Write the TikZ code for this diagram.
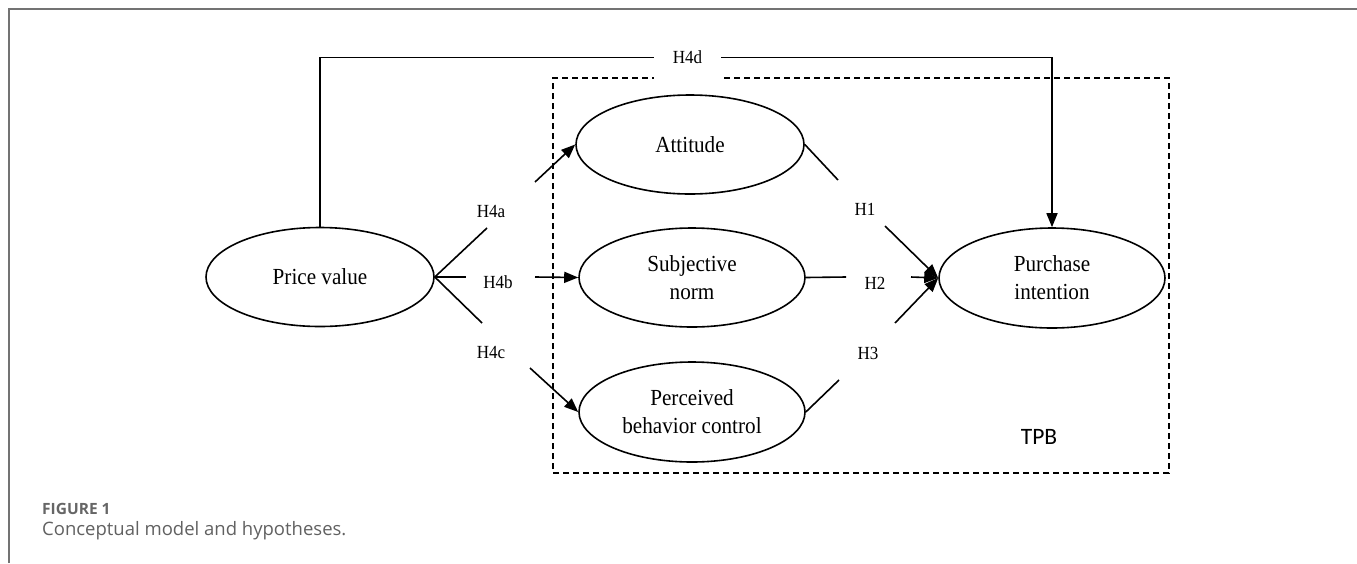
\documentclass[tikz,border=0pt]{standalone}
\usepackage{fontspec}
\setmainfont{Liberation Serif}
\newfontfamily\diagfont{Liberation Serif}[FakeStretch=0.92]
\newfontfamily\capfont{Open Sans}
\newfontfamily\tpbfont{Carlito}
\usetikzlibrary{shapes.geometric,arrows.meta}
\begin{document}
\begin{tikzpicture}[x=1pt,y=-1pt,
  ell/.style={draw, ellipse, line width=1.6pt, inner sep=0pt, minimum width=228pt, minimum height=99pt, align=center, font=\diagfont\fontsize{23}{28}\selectfont},
  lab/.style={font=\diagfont\fontsize{18.5}{20}\selectfont, inner sep=0pt},
  conn/.style={line width=1.6pt},
  arr/.style={conn, -{Triangle[length=14pt,width=11pt]}},
  tpbbox/.style={line width=1.5pt, dash pattern=on 6pt off 4pt}]
\useasboundingbox (0,0) rectangle (1357,563);
% frame
\draw[black!55, line width=1.5pt] (9,563) -- (9,9) -- (1357,9);

% nodes
\node[ell] (pv) at (320,277) {Price value};
\node[ell] (att) at (690,144.5) {Attitude};
\node[ell, minimum width=226pt] (sn) at (692,277.5) {Subjective\\norm};
\node[ell, minimum width=226pt, minimum height=100pt] (pbc) at (692,412) {Perceived\\behavior control};
\node[ell, minimum width=226pt, minimum height=100pt] (pi) at (1052,278) {Purchase\\intention};

% TPB dashed box (gap at H4d label)
\coordinate (b1) at (724,78);
\coordinate (b2) at (654,78);
\draw[tpbbox] (b1) -- (1169,78) -- (1169,473) -- (553,473) -- (553,78) -- (b2);
\node[font=\tpbfont\fontsize{23.5}{26}\selectfont, inner sep=0pt] (tpb) at (1039,437) {TPB};

% H4d
\node[lab, minimum width=67pt] (h4d) at (687.5,57.5) {H4d};
\draw[conn] (pv.north) |- (h4d.west);
\draw[arr] (h4d.east) -| (pi.north);

% H4a
\node[lab] (h4a) at (491,211) {H4a};
\coordinate (a1) at (487,228);
\coordinate (a2) at (535,182);
\draw[conn] (pv.east) -- (a1);
\draw[arr] (a2) -- (att.west);

% H4b
\node[lab] (h4b) at (498,282) {H4b};
\coordinate (b3) at (466,277);
\coordinate (b4) at (535,277);
\draw[conn] (pv.east) -- (b3);
\draw[arr] (b4) -- (sn.west);

% H4c
\node[lab] (h4c) at (491,352) {H4c};
\coordinate (c1) at (482,323);
\coordinate (c2) at (530,368);
\draw[conn] (pv.east) -- (c1);
\draw[arr] (c2) -- (pbc.west);

% H1
\node[lab] (h1) at (865,209) {H1};
\coordinate (d1) at (838,180);
\coordinate (d2) at (885,226);
\draw[conn] (att.east) -- (d1);
\draw[arr] (d2) -- (pi.west);

% H2
\node[lab] (h2) at (875,283) {H2};
\coordinate (e1) at (846,277);
\coordinate (e2) at (911,277);
\draw[conn] (sn.east) -- (e1);
\draw[arr] (e2) -- (pi.west);

% H3
\node[lab] (h3) at (868,353) {H3};
\coordinate (f1) at (839,380);
\coordinate (f2) at (895,323);
\draw[conn] (pbc.east) -- (f1);
\draw[arr] (f2) -- (pi.west);

% caption
\node[anchor=west, inner sep=0pt, text=black!60, font=\capfont\bfseries\fontsize{15.5}{18}\selectfont] (fig) at (42,509) {FIGURE 1};
\node[anchor=west, inner sep=0pt, text=black!62, font=\capfont\fontsize{18.5}{21}\selectfont] (cap) at (42,531) {Conceptual model and hypotheses.};
\end{tikzpicture}
\end{document}
